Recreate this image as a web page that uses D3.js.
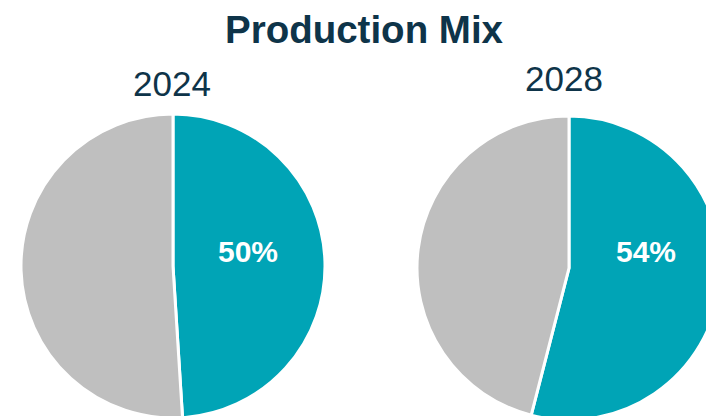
<!DOCTYPE html>
<html>
  <head>
    <meta charset="utf-8" />
    <style>
      body {
        margin: 0;
        background: #fff;
        overflow: hidden;
      }
      text {
        font-family: "Liberation Sans", Arial, sans-serif;
      }
      .title {
        font-weight: bold;
        fill: #0e3449;
      }
      .year {
        fill: #0e3449;
      }
      .pct {
        font-weight: bold;
        fill: #fff;
      }
    </style>
  </head>
  <body>
    <svg width="706" height="416"></svg>

    <script src="https://d3js.org/d3.v7.min.js"></script>
    <script>
      // data
      let years = ["2024", "2028"];
      let categories = ["Share", "Other"];
      let share2024 = [49, 51];
      let share2028 = [54, 46];
      let pctLabels = ["50%", "54%"];
      let colors = ["#00a4b6", "#bfbfbf"];

      let svg = d3.select("svg");
      let radius = 152;

      // pie centres (the chart is clipped by the window)
      let centers = [
        { x: 173, y: 266, yearX: 172, yearY: 96 },
        { x: 569, y: 268, yearX: 564, yearY: 91 },
      ];

      svg
        .append("text")
        .attr("class", "title")
        .attr("x", 364)
        .attr("y", 43)
        .attr("text-anchor", "middle")
        .style("font-size", "38.5px")
        .text("Production Mix");

      let pie = d3
        .pie()
        .sort(null)
        .value((d) => d);

      let arc = d3.arc().innerRadius(0).outerRadius(radius);

      let color = d3.scaleOrdinal().domain(categories).range(colors);

      [share2024, share2028].forEach((values, i) => {
        let c = centers[i];
        let g = svg
          .append("g")
          .attr("transform", `translate(${c.x}, ${c.y})`);

        g.selectAll("path")
          .data(pie(values))
          .join("path")
          .attr("d", arc)
          .attr("fill", (d, j) => color(categories[j]))
          .attr("stroke", "#fff")
          .attr("stroke-width", 3);

        svg
          .append("text")
          .attr("class", "year")
          .attr("x", c.yearX)
          .attr("y", c.yearY)
          .attr("text-anchor", "middle")
          .style("font-size", "35px")
          .text(years[i]);

        g.append("text")
          .attr("class", "pct")
          .attr("x", c.x < 300 ? 75 : 77)
          .attr("y", 262 - c.y)
          .attr("text-anchor", "middle")
          .style("font-size", "30px")
          .text(pctLabels[i]);
      });
    </script>
  </body>
</html>
